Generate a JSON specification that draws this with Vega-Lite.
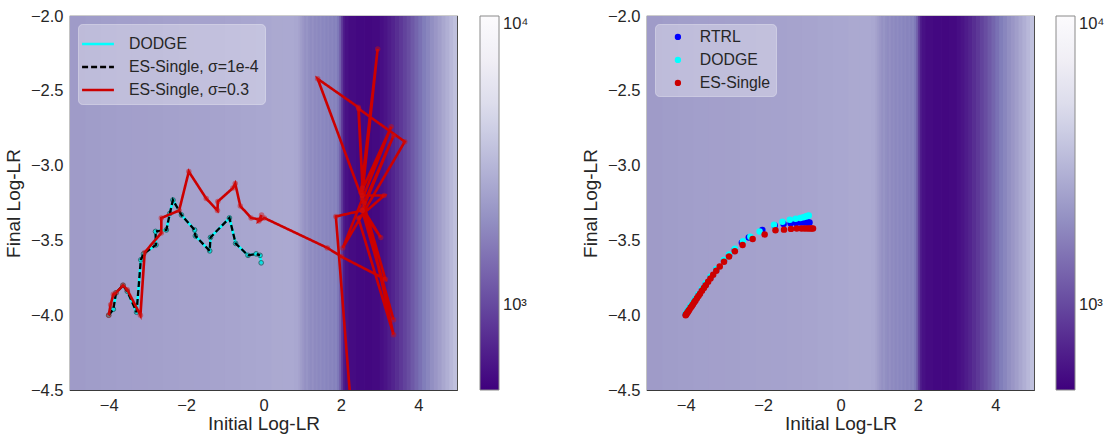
{
  "$schema": "https://vega.github.io/schema/vega-lite/v6.json",
  "padding": {"left": 3, "top": 7, "right": 2, "bottom": 0},
  "background": "white",
  "config": {
    "font": "Liberation Sans",
    "view": {"stroke": "#3a3a3a", "strokeWidth": 1.2},
    "axis": {"domain": false, "ticks": false, "grid": false, "labelFontSize": 16.5, "labelColor": "#262626", "titleFontSize": 19, "titleFontWeight": "normal", "titleColor": "#262626", "labelPadding": 7},
    "legend": {"labelColor": "#262626", "labelFont": "Liberation Sans"}
  },
  "datasets": {
    "bg": [
      {"x0": -5.0, "x1": -4.58, "v": 2280}, {"x0": -4.6, "x1": -4.18, "v": 2320}, {"x0": -4.2, "x1": -3.78, "v": 2350},
      {"x0": -3.8, "x1": -3.38, "v": 2370}, {"x0": -3.4, "x1": -2.98, "v": 2390}, {"x0": -3.0, "x1": -2.58, "v": 2410},
      {"x0": -2.6, "x1": -2.18, "v": 2430}, {"x0": -2.2, "x1": -1.78, "v": 2450}, {"x0": -1.8, "x1": -1.38, "v": 2470},
      {"x0": -1.4, "x1": -0.98, "v": 2490}, {"x0": -1.0, "x1": -0.58, "v": 2520}, {"x0": -0.6, "x1": -0.18, "v": 2560},
      {"x0": -0.2, "x1": 0.22, "v": 2600}, {"x0": 0.2, "x1": 0.52, "v": 2640}, {"x0": 0.5, "x1": 0.82, "v": 2660},
      {"x0": 0.8, "x1": 0.92, "v": 2600}, {"x0": 0.9, "x1": 0.97, "v": 2450}, {"x0": 0.95, "x1": 1.02, "v": 2300},
      {"x0": 1.0, "x1": 1.07, "v": 2150}, {"x0": 1.05, "x1": 1.12, "v": 2000}, {"x0": 1.1, "x1": 1.17, "v": 2080},
      {"x0": 1.15, "x1": 1.22, "v": 1950}, {"x0": 1.2, "x1": 1.27, "v": 1880}, {"x0": 1.25, "x1": 1.32, "v": 1990},
      {"x0": 1.3, "x1": 1.37, "v": 1850}, {"x0": 1.35, "x1": 1.42, "v": 1900}, {"x0": 1.4, "x1": 1.47, "v": 1800},
      {"x0": 1.45, "x1": 1.52, "v": 1880}, {"x0": 1.5, "x1": 1.57, "v": 1760}, {"x0": 1.55, "x1": 1.62, "v": 1840},
      {"x0": 1.6, "x1": 1.67, "v": 1720}, {"x0": 1.65, "x1": 1.72, "v": 1800}, {"x0": 1.7, "x1": 1.77, "v": 1700},
      {"x0": 1.75, "x1": 1.82, "v": 1760}, {"x0": 1.8, "x1": 1.87, "v": 1650}, {"x0": 1.85, "x1": 1.92, "v": 1700},
      {"x0": 1.9, "x1": 1.97, "v": 1520}, {"x0": 1.95, "x1": 2.02, "v": 1250}, {"x0": 2.0, "x1": 2.07, "v": 900},
      {"x0": 2.05, "x1": 2.12, "v": 680}, {"x0": 2.1, "x1": 2.22, "v": 600}, {"x0": 2.2, "x1": 2.42, "v": 565},
      {"x0": 2.4, "x1": 2.62, "v": 550}, {"x0": 2.6, "x1": 2.82, "v": 545}, {"x0": 2.8, "x1": 3.02, "v": 555},
      {"x0": 3.0, "x1": 3.12, "v": 585}, {"x0": 3.1, "x1": 3.22, "v": 620}, {"x0": 3.2, "x1": 3.32, "v": 665},
      {"x0": 3.3, "x1": 3.42, "v": 720}, {"x0": 3.4, "x1": 3.52, "v": 785}, {"x0": 3.5, "x1": 3.62, "v": 860},
      {"x0": 3.6, "x1": 3.72, "v": 945}, {"x0": 3.7, "x1": 3.82, "v": 1040}, {"x0": 3.8, "x1": 3.92, "v": 1150},
      {"x0": 3.9, "x1": 4.02, "v": 1270}, {"x0": 4.0, "x1": 4.12, "v": 1410}, {"x0": 4.1, "x1": 4.22, "v": 1570},
      {"x0": 4.2, "x1": 4.32, "v": 1750}, {"x0": 4.3, "x1": 4.42, "v": 1950}, {"x0": 4.4, "x1": 4.52, "v": 2150},
      {"x0": 4.5, "x1": 4.62, "v": 2350}, {"x0": 4.6, "x1": 4.72, "v": 2580}, {"x0": 4.7, "x1": 4.82, "v": 2830},
      {"x0": 4.8, "x1": 4.92, "v": 3100}, {"x0": 4.9, "x1": 5.0, "v": 3400}
    ],
    "traj": [
      {"series": "DODGE", "i": 0, "x": -4.00, "y": -4.00}, {"series": "DODGE", "i": 1, "x": -3.88, "y": -3.96},
      {"series": "DODGE", "i": 2, "x": -3.81, "y": -3.85}, {"series": "DODGE", "i": 3, "x": -3.63, "y": -3.80},
      {"series": "DODGE", "i": 4, "x": -3.52, "y": -3.84}, {"series": "DODGE", "i": 5, "x": -3.28, "y": -3.98},
      {"series": "DODGE", "i": 6, "x": -3.17, "y": -3.63}, {"series": "DODGE", "i": 7, "x": -3.10, "y": -3.59},
      {"series": "DODGE", "i": 8, "x": -2.78, "y": -3.53}, {"series": "DODGE", "i": 9, "x": -2.79, "y": -3.44},
      {"series": "DODGE", "i": 10, "x": -2.51, "y": -3.43}, {"series": "DODGE", "i": 11, "x": -2.42, "y": -3.32},
      {"series": "DODGE", "i": 12, "x": -2.34, "y": -3.23}, {"series": "DODGE", "i": 13, "x": -2.12, "y": -3.33},
      {"series": "DODGE", "i": 14, "x": -1.78, "y": -3.43}, {"series": "DODGE", "i": 15, "x": -1.76, "y": -3.47},
      {"series": "DODGE", "i": 16, "x": -1.39, "y": -3.57}, {"series": "DODGE", "i": 17, "x": -1.37, "y": -3.48},
      {"series": "DODGE", "i": 18, "x": -0.88, "y": -3.35}, {"series": "DODGE", "i": 19, "x": -0.72, "y": -3.52},
      {"series": "DODGE", "i": 20, "x": -0.40, "y": -3.60}, {"series": "DODGE", "i": 21, "x": -0.19, "y": -3.59},
      {"series": "DODGE", "i": 22, "x": -0.09, "y": -3.60}, {"series": "DODGE", "i": 23, "x": -0.06, "y": -3.65},
      {"series": "ES-Single, σ=1e-4", "i": 0, "x": -4.00, "y": -4.00}, {"series": "ES-Single, σ=1e-4", "i": 1, "x": -3.88, "y": -3.96},
      {"series": "ES-Single, σ=1e-4", "i": 2, "x": -3.81, "y": -3.85}, {"series": "ES-Single, σ=1e-4", "i": 3, "x": -3.63, "y": -3.80},
      {"series": "ES-Single, σ=1e-4", "i": 4, "x": -3.52, "y": -3.84}, {"series": "ES-Single, σ=1e-4", "i": 5, "x": -3.28, "y": -3.98},
      {"series": "ES-Single, σ=1e-4", "i": 6, "x": -3.17, "y": -3.63}, {"series": "ES-Single, σ=1e-4", "i": 7, "x": -3.10, "y": -3.59},
      {"series": "ES-Single, σ=1e-4", "i": 8, "x": -2.78, "y": -3.53}, {"series": "ES-Single, σ=1e-4", "i": 9, "x": -2.79, "y": -3.44},
      {"series": "ES-Single, σ=1e-4", "i": 10, "x": -2.51, "y": -3.43}, {"series": "ES-Single, σ=1e-4", "i": 11, "x": -2.42, "y": -3.32},
      {"series": "ES-Single, σ=1e-4", "i": 12, "x": -2.34, "y": -3.23}, {"series": "ES-Single, σ=1e-4", "i": 13, "x": -2.12, "y": -3.33},
      {"series": "ES-Single, σ=1e-4", "i": 14, "x": -1.78, "y": -3.43}, {"series": "ES-Single, σ=1e-4", "i": 15, "x": -1.76, "y": -3.47},
      {"series": "ES-Single, σ=1e-4", "i": 16, "x": -1.39, "y": -3.57}, {"series": "ES-Single, σ=1e-4", "i": 17, "x": -1.37, "y": -3.48},
      {"series": "ES-Single, σ=1e-4", "i": 18, "x": -0.88, "y": -3.35}, {"series": "ES-Single, σ=1e-4", "i": 19, "x": -0.72, "y": -3.52},
      {"series": "ES-Single, σ=1e-4", "i": 20, "x": -0.40, "y": -3.60}, {"series": "ES-Single, σ=1e-4", "i": 21, "x": -0.19, "y": -3.59},
      {"series": "ES-Single, σ=1e-4", "i": 22, "x": -0.09, "y": -3.60},
      {"series": "ES-Single, σ=0.3", "i": 0, "x": -4.00, "y": -4.00}, {"series": "ES-Single, σ=0.3", "i": 1, "x": -3.95, "y": -3.93},
      {"series": "ES-Single, σ=0.3", "i": 2, "x": -3.88, "y": -3.86}, {"series": "ES-Single, σ=0.3", "i": 3, "x": -3.81, "y": -3.85},
      {"series": "ES-Single, σ=0.3", "i": 4, "x": -3.63, "y": -3.80}, {"series": "ES-Single, σ=0.3", "i": 5, "x": -3.52, "y": -3.83},
      {"series": "ES-Single, σ=0.3", "i": 6, "x": -3.18, "y": -4.00}, {"series": "ES-Single, σ=0.3", "i": 7, "x": -3.07, "y": -3.58},
      {"series": "ES-Single, σ=0.3", "i": 8, "x": -2.64, "y": -3.45}, {"series": "ES-Single, σ=0.3", "i": 9, "x": -2.64, "y": -3.35},
      {"series": "ES-Single, σ=0.3", "i": 10, "x": -2.18, "y": -3.30}, {"series": "ES-Single, σ=0.3", "i": 11, "x": -1.93, "y": -3.04},
      {"series": "ES-Single, σ=0.3", "i": 12, "x": -1.48, "y": -3.22}, {"series": "ES-Single, σ=0.3", "i": 13, "x": -1.19, "y": -3.30},
      {"series": "ES-Single, σ=0.3", "i": 14, "x": -1.18, "y": -3.24}, {"series": "ES-Single, σ=0.3", "i": 15, "x": -0.79, "y": -3.15},
      {"series": "ES-Single, σ=0.3", "i": 16, "x": -0.73, "y": -3.12}, {"series": "ES-Single, σ=0.3", "i": 17, "x": -0.60, "y": -3.27},
      {"series": "ES-Single, σ=0.3", "i": 18, "x": -0.32, "y": -3.35}, {"series": "ES-Single, σ=0.3", "i": 19, "x": -0.10, "y": -3.36},
      {"series": "ES-Single, σ=0.3", "i": 20, "x": -0.05, "y": -3.33}, {"series": "ES-Single, σ=0.3", "i": 21, "x": -0.12, "y": -3.37},
      {"series": "ES-Single, σ=0.3", "i": 22, "x": 0.02, "y": -3.35}, {"series": "ES-Single, σ=0.3", "i": 23, "x": 1.65, "y": -3.55},
      {"series": "ES-Single, σ=0.3", "i": 24, "x": 2.02, "y": -3.61}, {"series": "ES-Single, σ=0.3", "i": 25, "x": 3.15, "y": -3.76},
      {"series": "ES-Single, σ=0.3", "i": 26, "x": 2.55, "y": -3.22}, {"series": "ES-Single, σ=0.3", "i": 27, "x": 1.40, "y": -2.42},
      {"series": "ES-Single, σ=0.3", "i": 28, "x": 2.45, "y": -2.61}, {"series": "ES-Single, σ=0.3", "i": 29, "x": 2.56, "y": -3.15},
      {"series": "ES-Single, σ=0.3", "i": 30, "x": 2.46, "y": -2.62}, {"series": "ES-Single, σ=0.3", "i": 31, "x": 3.65, "y": -2.84},
      {"series": "ES-Single, σ=0.3", "i": 32, "x": 2.05, "y": -3.55}, {"series": "ES-Single, σ=0.3", "i": 33, "x": 3.30, "y": -2.74},
      {"series": "ES-Single, σ=0.3", "i": 34, "x": 2.52, "y": -3.18}, {"series": "ES-Single, σ=0.3", "i": 35, "x": 2.95, "y": -2.22},
      {"series": "ES-Single, σ=0.3", "i": 36, "x": 2.55, "y": -3.20}, {"series": "ES-Single, σ=0.3", "i": 37, "x": 3.12, "y": -3.20},
      {"series": "ES-Single, σ=0.3", "i": 38, "x": 2.45, "y": -3.35}, {"series": "ES-Single, σ=0.3", "i": 39, "x": 3.36, "y": -4.13},
      {"series": "ES-Single, σ=0.3", "i": 40, "x": 2.60, "y": -3.25}, {"series": "ES-Single, σ=0.3", "i": 41, "x": 3.36, "y": -2.80},
      {"series": "ES-Single, σ=0.3", "i": 42, "x": 2.55, "y": -3.30}, {"series": "ES-Single, σ=0.3", "i": 43, "x": 3.36, "y": -4.03},
      {"series": "ES-Single, σ=0.3", "i": 44, "x": 2.55, "y": -3.28}, {"series": "ES-Single, σ=0.3", "i": 45, "x": 3.03, "y": -3.48},
      {"series": "ES-Single, σ=0.3", "i": 46, "x": 2.55, "y": -3.30}, {"series": "ES-Single, σ=0.3", "i": 47, "x": 1.87, "y": -3.34},
      {"series": "ES-Single, σ=0.3", "i": 48, "x": 2.25, "y": -4.58}
    ],
    "pts": [
      {"series": "RTRL", "x": -4.00, "y": -3.995}, {"series": "RTRL", "x": -3.96, "y": -3.978}, {"series": "RTRL", "x": -3.92, "y": -3.962},
      {"series": "RTRL", "x": -3.87, "y": -3.942}, {"series": "RTRL", "x": -3.81, "y": -3.919}, {"series": "RTRL", "x": -3.75, "y": -3.896},
      {"series": "RTRL", "x": -3.67, "y": -3.865}, {"series": "RTRL", "x": -3.58, "y": -3.830}, {"series": "RTRL", "x": -3.48, "y": -3.792},
      {"series": "RTRL", "x": -3.36, "y": -3.748}, {"series": "RTRL", "x": -3.21, "y": -3.696}, {"series": "RTRL", "x": -3.01, "y": -3.636},
      {"series": "RTRL", "x": -2.88, "y": -3.600}, {"series": "RTRL", "x": -2.73, "y": -3.562}, {"series": "RTRL", "x": -2.55, "y": -3.515},
      {"series": "RTRL", "x": -2.37, "y": -3.480}, {"series": "RTRL", "x": -2.02, "y": -3.430}, {"series": "RTRL", "x": -1.70, "y": -3.400},
      {"series": "RTRL", "x": -1.47, "y": -3.390}, {"series": "RTRL", "x": -1.29, "y": -3.385}, {"series": "RTRL", "x": -1.15, "y": -3.383},
      {"series": "RTRL", "x": -1.04, "y": -3.381}, {"series": "RTRL", "x": -0.96, "y": -3.380}, {"series": "RTRL", "x": -0.89, "y": -3.380},
      {"series": "RTRL", "x": -0.84, "y": -3.380}, {"series": "RTRL", "x": -0.80, "y": -3.380},
      {"series": "DODGE", "x": -4.00, "y": -3.990}, {"series": "DODGE", "x": -3.96, "y": -3.973}, {"series": "DODGE", "x": -3.92, "y": -3.957},
      {"series": "DODGE", "x": -3.87, "y": -3.937}, {"series": "DODGE", "x": -3.81, "y": -3.914}, {"series": "DODGE", "x": -3.75, "y": -3.891},
      {"series": "DODGE", "x": -3.67, "y": -3.860}, {"series": "DODGE", "x": -3.58, "y": -3.825}, {"series": "DODGE", "x": -3.48, "y": -3.787},
      {"series": "DODGE", "x": -3.36, "y": -3.743}, {"series": "DODGE", "x": -3.21, "y": -3.691}, {"series": "DODGE", "x": -3.01, "y": -3.631},
      {"series": "DODGE", "x": -2.88, "y": -3.595}, {"series": "DODGE", "x": -2.73, "y": -3.556}, {"series": "DODGE", "x": -2.52, "y": -3.505},
      {"series": "DODGE", "x": -2.33, "y": -3.475}, {"series": "DODGE", "x": -2.09, "y": -3.440}, {"series": "DODGE", "x": -1.72, "y": -3.395},
      {"series": "DODGE", "x": -1.50, "y": -3.375}, {"series": "DODGE", "x": -1.31, "y": -3.362}, {"series": "DODGE", "x": -1.16, "y": -3.355},
      {"series": "DODGE", "x": -1.04, "y": -3.350}, {"series": "DODGE", "x": -0.96, "y": -3.345}, {"series": "DODGE", "x": -0.90, "y": -3.340},
      {"series": "DODGE", "x": -0.86, "y": -3.337}, {"series": "DODGE", "x": -0.82, "y": -3.333},
      {"series": "ES-Single", "x": -4.00, "y": -4.000}, {"series": "ES-Single", "x": -3.99, "y": -3.996}, {"series": "ES-Single", "x": -3.98, "y": -3.992},
      {"series": "ES-Single", "x": -3.96, "y": -3.984}, {"series": "ES-Single", "x": -3.94, "y": -3.977}, {"series": "ES-Single", "x": -3.92, "y": -3.969},
      {"series": "ES-Single", "x": -3.90, "y": -3.961}, {"series": "ES-Single", "x": -3.87, "y": -3.949}, {"series": "ES-Single", "x": -3.84, "y": -3.938},
      {"series": "ES-Single", "x": -3.81, "y": -3.926}, {"series": "ES-Single", "x": -3.78, "y": -3.914}, {"series": "ES-Single", "x": -3.75, "y": -3.903},
      {"series": "ES-Single", "x": -3.71, "y": -3.887}, {"series": "ES-Single", "x": -3.67, "y": -3.872}, {"series": "ES-Single", "x": -3.63, "y": -3.856},
      {"series": "ES-Single", "x": -3.58, "y": -3.837}, {"series": "ES-Single", "x": -3.53, "y": -3.818}, {"series": "ES-Single", "x": -3.48, "y": -3.799},
      {"series": "ES-Single", "x": -3.42, "y": -3.777}, {"series": "ES-Single", "x": -3.36, "y": -3.755}, {"series": "ES-Single", "x": -3.29, "y": -3.730},
      {"series": "ES-Single", "x": -3.21, "y": -3.703}, {"series": "ES-Single", "x": -3.12, "y": -3.675}, {"series": "ES-Single", "x": -3.01, "y": -3.643},
      {"series": "ES-Single", "x": -2.88, "y": -3.608}, {"series": "ES-Single", "x": -2.73, "y": -3.572}, {"series": "ES-Single", "x": -2.53, "y": -3.530},
      {"series": "ES-Single", "x": -2.27, "y": -3.490}, {"series": "ES-Single", "x": -1.96, "y": -3.460}, {"series": "ES-Single", "x": -1.68, "y": -3.432},
      {"series": "ES-Single", "x": -1.46, "y": -3.428}, {"series": "ES-Single", "x": -1.28, "y": -3.423}, {"series": "ES-Single", "x": -1.13, "y": -3.421},
      {"series": "ES-Single", "x": -1.01, "y": -3.420}, {"series": "ES-Single", "x": -0.93, "y": -3.420}, {"series": "ES-Single", "x": -0.86, "y": -3.420},
      {"series": "ES-Single", "x": -0.80, "y": -3.420}, {"series": "ES-Single", "x": -0.75, "y": -3.420}, {"series": "ES-Single", "x": -0.71, "y": -3.420}
    ]
  },
  "spacing": 50,
  "resolve": {"scale": {"color": "independent", "fill": "independent", "stroke": "independent", "strokeDash": "independent"}, "legend": {"color": "independent", "fill": "independent", "stroke": "independent", "strokeDash": "independent"}},
  "hconcat": [
    {
      "width": 387,
      "height": 374,
      "layer": [
        {
          "data": {"name": "bg"},
          "mark": {"type": "rect"},
          "encoding": {
            "x": {"field": "x0", "type": "quantitative", "scale": {"domain": [-5, 5], "nice": false, "zero": false}, "axis": {"values": [-4, -2, 0, 2, 4], "title": "Initial Log-LR", "titlePadding": 1}},
            "x2": {"field": "x1"},
            "color": {"field": "v", "type": "quantitative", "scale": {"type": "log", "domain": [510, 740, 1073, 1557, 2259, 3277, 4753, 6895, 10000], "range": ["#3f007d", "#54278f", "#6a51a3", "#807dba", "#9e9ac8", "#bcbddc", "#dadaeb", "#efedf5", "#fcfbfd"], "interpolate": "rgb"},
              "legend": {"orient": "right", "offset": 23, "direction": "vertical", "gradientLength": 374, "gradientThickness": 19, "title": null, "values": [1000, 10000], "labelExpr": "datum.value >= 5000 ? '10⁴' : '10³'", "labelFontSize": 16.5, "labelOffset": 4, "gradientStrokeColor": "#8a8a8a", "gradientStrokeWidth": 1}}
          }
        },
        {
          "data": {"name": "traj"},
          "transform": [{"filter": "datum.series === 'DODGE'"}],
          "mark": {"type": "line", "strokeWidth": 2.5, "clip": true},
          "encoding": {
            "x": {"field": "x", "type": "quantitative"},
            "y": {"field": "y", "type": "quantitative", "scale": {"domain": [-4.5, -2.0], "nice": false, "zero": false}, "axis": {"values": [-4.5, -4.0, -3.5, -3.0, -2.5, -2.0], "format": ".1f", "title": "Final Log-LR", "titlePadding": 7}},
            "order": {"field": "i", "type": "quantitative"},
            "stroke": {"field": "series", "type": "nominal", "scale": {"domain": ["DODGE", "ES-Single, σ=1e-4", "ES-Single, σ=0.3"], "range": ["#00ffff", "#000000", "#cc0000"]},
              "legend": {"orient": "top-left", "offset": 8, "title": null, "symbolType": "M-1.3,0H1.3", "symbolSize": 600, "symbolStrokeWidth": 2.6, "labelFontSize": 15.8, "labelOffset": 17, "rowPadding": 1, "padding": 6, "fillColor": "rgba(255,255,255,0.32)", "strokeColor": "rgba(255,255,255,0.35)", "cornerRadius": 4}},
            "strokeDash": {"field": "series", "type": "nominal", "scale": {"domain": ["DODGE", "ES-Single, σ=1e-4", "ES-Single, σ=0.3"], "range": [[1, 0], [6, 3], [1, 0]]},
              "legend": {"orient": "top-left", "offset": 8, "title": null, "symbolType": "M-1.3,0H1.3", "symbolSize": 600, "symbolStrokeWidth": 2.6, "labelFontSize": 15.8, "labelOffset": 17, "rowPadding": 1, "padding": 6, "fillColor": "rgba(255,255,255,0.32)", "strokeColor": "rgba(255,255,255,0.35)", "cornerRadius": 4}}
          }
        },
        {
          "data": {"name": "traj"},
          "transform": [{"filter": "datum.series === 'DODGE'"}],
          "mark": {"type": "point", "filled": true, "size": 22, "color": "#00e0e0", "stroke": "#1f5a5a", "strokeWidth": 1, "opacity": 0.8},
          "encoding": {"x": {"field": "x", "type": "quantitative"}, "y": {"field": "y", "type": "quantitative"}}
        },
        {
          "data": {"name": "traj"},
          "transform": [{"filter": "datum.series === 'ES-Single, σ=1e-4'"}],
          "mark": {"type": "line", "strokeWidth": 2.3, "clip": true},
          "encoding": {
            "x": {"field": "x", "type": "quantitative"},
            "y": {"field": "y", "type": "quantitative"},
            "order": {"field": "i", "type": "quantitative"},
            "stroke": {"field": "series", "type": "nominal"},
            "strokeDash": {"field": "series", "type": "nominal"}
          }
        },
        {
          "data": {"name": "traj"},
          "transform": [{"filter": "datum.series === 'ES-Single, σ=0.3'"}],
          "mark": {"type": "line", "strokeWidth": 2.6, "clip": true},
          "encoding": {
            "x": {"field": "x", "type": "quantitative"},
            "y": {"field": "y", "type": "quantitative"},
            "order": {"field": "i", "type": "quantitative"},
            "stroke": {"field": "series", "type": "nominal"},
            "strokeDash": {"field": "series", "type": "nominal"}
          }
        },
        {
          "data": {"name": "traj"},
          "transform": [{"filter": "datum.series === 'ES-Single, σ=0.3' && datum.y > -4.5"}],
          "mark": {"type": "point", "filled": true, "size": 30, "color": "#d01010", "opacity": 0.45, "clip": true},
          "encoding": {"x": {"field": "x", "type": "quantitative"}, "y": {"field": "y", "type": "quantitative"}}
        }
      ]
    },
    {
      "width": 387,
      "height": 374,
      "layer": [
        {
          "data": {"name": "bg"},
          "mark": {"type": "rect"},
          "encoding": {
            "x": {"field": "x0", "type": "quantitative", "scale": {"domain": [-5, 5], "nice": false, "zero": false}, "axis": {"values": [-4, -2, 0, 2, 4], "title": "Initial Log-LR", "titlePadding": 1}},
            "x2": {"field": "x1"},
            "color": {"field": "v", "type": "quantitative", "scale": {"type": "log", "domain": [510, 740, 1073, 1557, 2259, 3277, 4753, 6895, 10000], "range": ["#3f007d", "#54278f", "#6a51a3", "#807dba", "#9e9ac8", "#bcbddc", "#dadaeb", "#efedf5", "#fcfbfd"], "interpolate": "rgb"},
              "legend": {"orient": "right", "offset": 22, "direction": "vertical", "gradientLength": 374, "gradientThickness": 19, "title": null, "values": [1000, 10000], "labelExpr": "datum.value >= 5000 ? '10⁴' : '10³'", "labelFontSize": 16.5, "labelOffset": 4, "gradientStrokeColor": "#8a8a8a", "gradientStrokeWidth": 1}}
          }
        },
        {
          "data": {"name": "pts"},
          "mark": {"type": "point", "filled": true, "size": 42, "strokeWidth": 0, "opacity": 1},
          "encoding": {
            "x": {"field": "x", "type": "quantitative"},
            "y": {"field": "y", "type": "quantitative", "scale": {"domain": [-4.5, -2.0], "nice": false, "zero": false}, "axis": {"values": [-4.5, -4.0, -3.5, -3.0, -2.5, -2.0], "format": ".1f", "title": "Final Log-LR", "titlePadding": 7}},
            "fill": {"field": "series", "type": "nominal", "sort": null, "scale": {"domain": ["RTRL", "DODGE", "ES-Single"], "range": ["#0000ff", "#00ffff", "#cc0000"]},
              "legend": {"orient": "top-left", "offset": 8, "title": null, "symbolType": "circle", "symbolSize": 40, "symbolOffset": 10, "labelFontSize": 15.8, "labelOffset": 14, "rowPadding": 6, "padding": 5, "fillColor": "rgba(255,255,255,0.32)", "strokeColor": "rgba(255,255,255,0.35)", "cornerRadius": 4}}
          }
        }
      ]
    }
  ]
}
